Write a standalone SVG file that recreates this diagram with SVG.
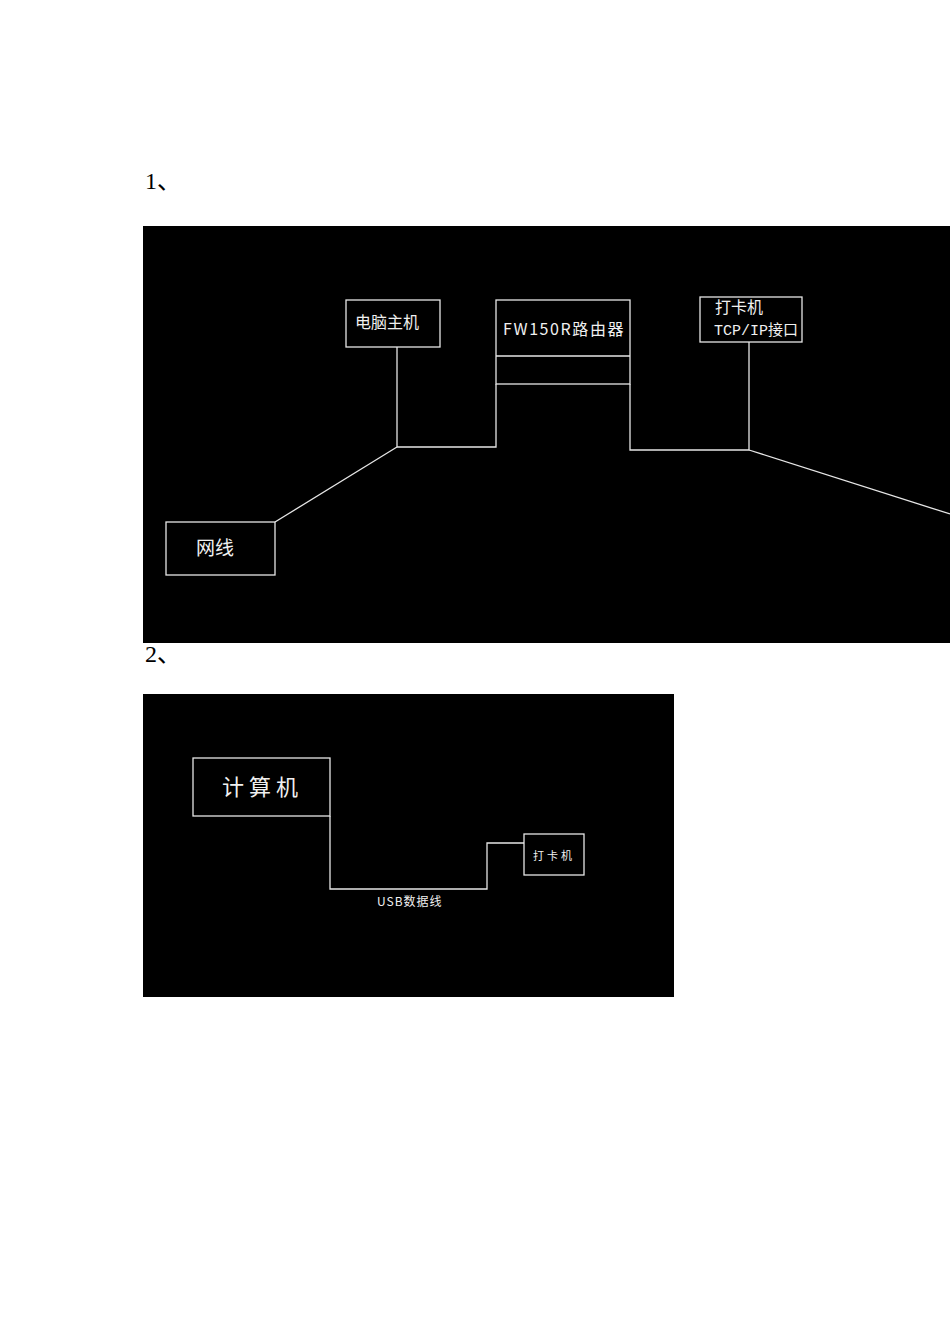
<svg xmlns="http://www.w3.org/2000/svg" width="950" height="1344" viewBox="0 0 950 1344">
<style>
.bg{fill:#000}
.box{fill:none;stroke:#e6e6e6;stroke-width:1.3}
.ln{fill:none;stroke:#e6e6e6;stroke-width:1.3}
.t{fill:#f0f0f0;font-family:"Noto Sans CJK SC","DejaVu Sans",sans-serif}
.mono{font-family:"Liberation Mono","Noto Sans CJK SC",monospace}
.num{fill:#000;font-family:"Liberation Serif","Noto Sans CJK SC",serif;font-size:24px}
</style>
<rect width="950" height="1344" fill="#fff"/>
<text class="num" x="145" y="189">1、</text>
<rect class="bg" x="143" y="226" width="807" height="417"/>
<text class="num" x="145" y="662">2、</text>
<rect class="bg" x="143" y="694" width="531" height="303"/>
<g id="connectors">
<polyline class="ln" points="397,347 397,447 496,447 496,384"/>
<line class="ln" x1="397" y1="447" x2="275" y2="522"/>
<polyline class="ln" points="630,384 630,450 749,450 749,342"/>
<line class="ln" x1="749" y1="450" x2="950" y2="514"/>
<polyline class="ln" points="330,816 330,889 487,889 487,843 524,843"/>
</g>
<g id="pc">
<rect class="box" x="346" y="300" width="94" height="47"/>
<text class="t" x="355" y="328" font-size="16">电脑主机</text>
</g>
<g id="router">
<rect class="box" x="496" y="300" width="134" height="84"/>
<line class="ln" x1="496" y1="356" x2="630" y2="356"/>
<text class="t" x="503" y="335" font-size="16" letter-spacing="1.6">FW150R路由器</text>
</g>
<g id="clock">
<rect class="box" x="700" y="297" width="102" height="45"/>
<text class="t" x="715" y="313" font-size="16">打卡机</text>
<text class="t" x="714" y="335" font-size="15"><tspan class="mono">TCP/IP</tspan>接口</text>
</g>
<g id="cable">
<rect class="box" x="166" y="522" width="109" height="53"/>
<text class="t" x="196" y="555" font-size="19">网线</text>
</g>
<g id="computer">
<rect class="box" x="193" y="758" width="137" height="58"/>
<text class="t" x="222" y="795" font-size="22" letter-spacing="5">计算机</text>
</g>
<g id="clock2">
<rect class="box" x="524" y="834" width="60" height="41"/>
<text class="t" x="533" y="860" font-size="11" letter-spacing="3">打卡机</text>
</g>
<g id="usb">
<text class="t" x="377" y="906" font-size="12" letter-spacing="1">USB数据线</text>
</g>
</svg>
